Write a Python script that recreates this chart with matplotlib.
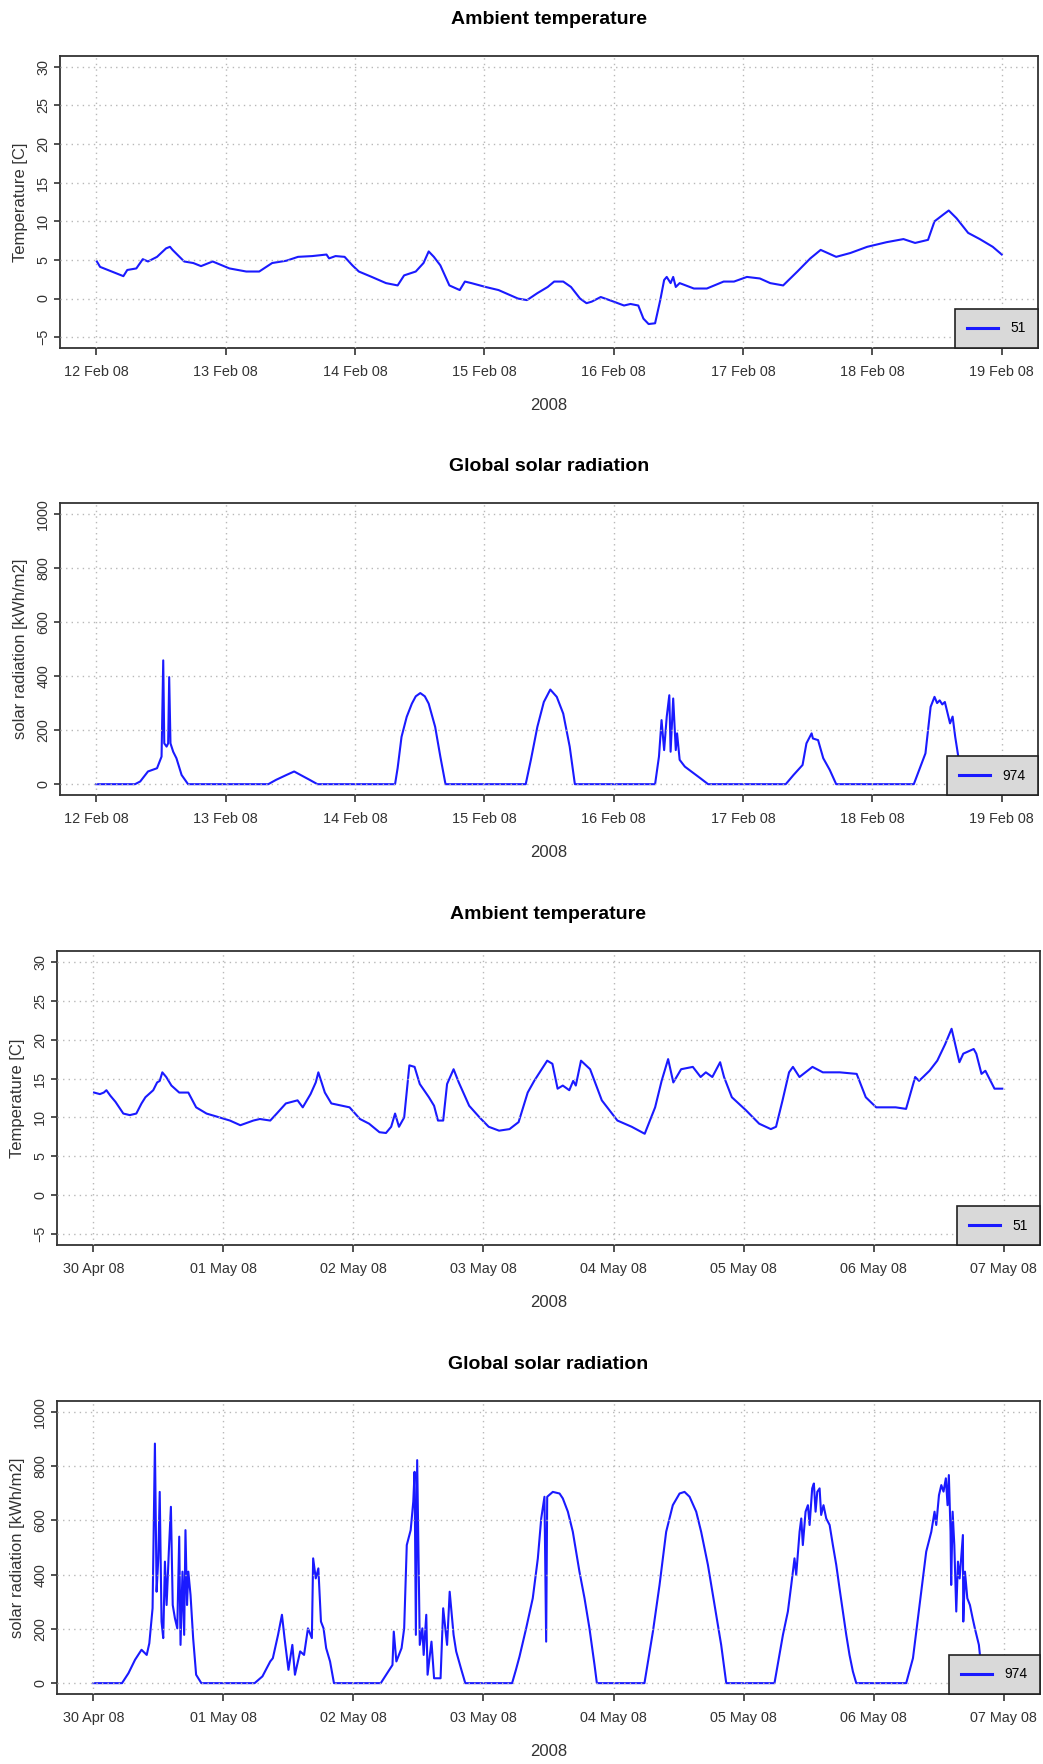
import matplotlib
matplotlib.use("Agg")
import matplotlib.pyplot as plt
import matplotlib.dates as mdates
import numpy as np
from datetime import datetime

plt.rcParams['font.family'] = ['Liberation Sans', 'DejaVu Sans']

# ---- data (time in days from the start of each week) ----
feb_temp_days = [0.005, 0.03, 0.21, 0.24, 0.31, 0.36, 0.40, 0.47, 0.54, 0.57, 0.59, 0.68, 0.75, 0.81,
                 0.90, 1.03, 1.16, 1.26, 1.36, 1.47, 1.56, 1.67, 1.78, 1.80, 1.85, 1.92, 1.98, 2.03,
                 2.13, 2.24, 2.33, 2.38, 2.47, 2.53, 2.57, 2.61, 2.66, 2.73, 2.81, 2.85, 2.90, 3.01,
                 3.11, 3.26, 3.33, 3.41, 3.49, 3.54, 3.61, 3.67, 3.74, 3.79, 3.83, 3.90, 4.00, 4.08,
                 4.13, 4.19, 4.23, 4.27, 4.32, 4.36, 4.39, 4.41, 4.44, 4.46, 4.48, 4.51, 4.62, 4.72,
                 4.85, 4.93, 5.03, 5.13, 5.21, 5.31, 5.42, 5.52, 5.60, 5.72, 5.83, 5.96, 6.11, 6.24,
                 6.33, 6.43, 6.48, 6.55, 6.59, 6.65, 6.74, 6.83, 6.93, 7.00]
feb_temp = [4.8, 4.1, 2.9, 3.7, 3.9, 5.1, 4.8, 5.4, 6.5, 6.7, 6.3, 4.8, 4.6, 4.2,
            4.8, 3.9, 3.5, 3.5, 4.6, 4.9, 5.4, 5.5, 5.7, 5.2, 5.5, 5.4, 4.3, 3.5,
            2.8, 2.0, 1.7, 3.0, 3.5, 4.6, 6.1, 5.4, 4.3, 1.7, 1.1, 2.2, 2.0, 1.5,
            1.1, 0.0, -0.2, 0.7, 1.5, 2.2, 2.2, 1.5, 0.0, -0.6, -0.4, 0.2, -0.4, -0.9,
            -0.7, -0.9, -2.6, -3.3, -3.2, -0.2, 2.4, 2.8, 2.0, 2.8, 1.5, 2.0, 1.3, 1.3,
            2.2, 2.2, 2.8, 2.6, 2.0, 1.7, 3.5, 5.2, 6.3, 5.4, 5.9, 6.7, 7.3, 7.7,
            7.2, 7.6, 10.0, 10.9, 11.4, 10.4, 8.5, 7.7, 6.7, 5.7]

feb_rad_days = [0.0, 0.30, 0.34, 0.40, 0.47, 0.505, 0.518, 0.526, 0.544, 0.556, 0.564, 0.574, 0.595,
                0.62, 0.66, 0.71,
                1.33, 1.39, 1.47, 1.53, 1.58, 1.65, 1.71,
                2.31, 2.33, 2.36, 2.40, 2.44, 2.47, 2.505, 2.54, 2.57, 2.62, 2.66, 2.70,
                3.32, 3.36, 3.41, 3.46, 3.51, 3.56, 3.61, 3.66, 3.70,
                4.32, 4.35, 4.37, 4.39, 4.41, 4.43, 4.44, 4.46, 4.48, 4.49, 4.51, 4.55, 4.60,
                4.67, 4.73,
                5.33, 5.39, 5.46, 5.49, 5.53, 5.54, 5.58, 5.62, 5.67, 5.72,
                6.32, 6.41, 6.45, 6.48, 6.50, 6.52, 6.54, 6.56, 6.60, 6.62, 6.64, 6.68, 6.73, 7.00]
feb_rad = [0, 0, 10, 47, 59, 102, 458, 151, 139, 151, 396, 151, 120,
           96, 34, 0,
           0, 16, 34, 47, 34, 16, 0,
           0, 60, 175, 249, 298, 325, 337, 325, 298, 212, 102, 0,
           0, 90, 212, 304, 350, 323, 261, 139, 0,
           0, 102, 237, 126, 249, 329, 120, 317, 126, 188, 90, 65, 47,
           22, 0,
           0, 34, 71, 151, 188, 169, 163, 96, 53, 0,
           0, 114, 286, 323, 300, 310, 295, 304, 225, 250, 175, 53, 0, 0]

may_temp_days = [0.005, 0.05, 0.08, 0.10, 0.13, 0.17, 0.23, 0.28, 0.33, 0.37, 0.40, 0.46, 0.49, 0.51,
                 0.53, 0.56, 0.60, 0.66, 0.73, 0.79, 0.87, 0.97, 1.05, 1.13, 1.23, 1.28, 1.36, 1.41,
                 1.48, 1.57, 1.61, 1.67, 1.71, 1.73, 1.78, 1.83, 1.97, 2.05, 2.12, 2.20, 2.25, 2.29,
                 2.32, 2.35, 2.39, 2.43, 2.47, 2.51, 2.58, 2.62, 2.65, 2.69, 2.72, 2.77, 2.81, 2.89,
                 2.97, 3.04, 3.12, 3.20, 3.27, 3.34, 3.39, 3.49, 3.53, 3.57, 3.61, 3.66, 3.69, 3.71,
                 3.75, 3.82, 3.91, 4.03, 4.14, 4.24, 4.32, 4.37, 4.42, 4.46, 4.52, 4.61, 4.67, 4.71,
                 4.76, 4.82, 4.85, 4.91, 5.02, 5.12, 5.21, 5.25, 5.30, 5.35, 5.38, 5.43, 5.53, 5.61,
                 5.74, 5.87, 5.94, 6.02, 6.17, 6.25, 6.32, 6.35, 6.43, 6.49, 6.55, 6.60, 6.66, 6.69,
                 6.77, 6.79, 6.83, 6.86, 6.93, 6.99]
may_temp = [13.2, 13.0, 13.2, 13.5, 12.8, 12.0, 10.5, 10.3, 10.5, 11.8, 12.6, 13.5, 14.5, 14.7,
            15.8, 15.2, 14.1, 13.2, 13.2, 11.3, 10.5, 10.0, 9.6, 9.0, 9.6, 9.8, 9.6, 10.5,
            11.8, 12.2, 11.3, 13.0, 14.5, 15.8, 13.2, 11.8, 11.3, 9.8, 9.2, 8.1, 8.0, 8.8,
            10.5, 8.8, 10.0, 16.7, 16.5, 14.3, 12.6, 11.5, 9.6, 9.6, 14.3, 16.2, 14.5, 11.5,
            10.0, 8.8, 8.3, 8.5, 9.4, 13.2, 14.7, 17.3, 16.9, 13.7, 14.1, 13.5, 14.7, 14.1,
            17.3, 16.2, 12.2, 9.6, 8.8, 7.9, 11.3, 14.7, 17.5, 14.5, 16.2, 16.5, 15.2, 15.8,
            15.2, 17.1, 15.2, 12.6, 10.9, 9.2, 8.5, 8.8, 12.2, 15.8, 16.5, 15.2, 16.5, 15.8,
            15.8, 15.6, 12.6, 11.3, 11.3, 11.1, 15.2, 14.7, 16.0, 17.3, 19.4, 21.4, 17.1, 18.2,
            18.8, 18.2, 15.6, 16.0, 13.7, 13.7]

may_rad_days = [0.0, 0.22, 0.27, 0.32, 0.37, 0.41, 0.43, 0.455, 0.473, 0.486, 0.499, 0.51, 0.524,
                0.537, 0.55, 0.563, 0.58, 0.596, 0.61, 0.627, 0.645, 0.66, 0.67, 0.685, 0.698,
                0.708, 0.72, 0.73, 0.747, 0.767, 0.79, 0.83,
                1.24, 1.30, 1.36, 1.38, 1.42, 1.45, 1.47, 1.50, 1.53, 1.55, 1.59, 1.62, 1.65,
                1.68, 1.69, 1.71, 1.73, 1.75, 1.77, 1.79, 1.82, 1.85,
                2.21, 2.26, 2.30, 2.31, 2.33, 2.37, 2.39, 2.41, 2.44, 2.46, 2.47, 2.48, 2.49,
                2.51, 2.53, 2.54, 2.56, 2.57, 2.60, 2.62, 2.67, 2.69, 2.72, 2.74, 2.77, 2.79,
                2.83, 2.86,
                3.22, 3.25, 3.277, 3.328, 3.379, 3.418, 3.444, 3.469, 3.482, 3.49, 3.533, 3.585,
                3.61, 3.649, 3.687, 3.738, 3.777, 3.815, 3.854, 3.872,
                4.238, 4.303, 4.354, 4.405, 4.456, 4.508, 4.546, 4.585, 4.636, 4.674, 4.726,
                4.777, 4.828, 4.867,
                5.238, 5.303, 5.341, 5.367, 5.392, 5.405, 5.431, 5.444, 5.456, 5.477, 5.495,
                5.508, 5.528, 5.541, 5.554, 5.567, 5.585, 5.597, 5.615, 5.636, 5.662, 5.687,
                5.713, 5.738, 5.764, 5.79, 5.815, 5.841, 5.867,
                6.251, 6.303, 6.354, 6.405, 6.444, 6.469, 6.482, 6.503, 6.521, 6.538, 6.556,
                6.569, 6.579, 6.592, 6.597, 6.608, 6.621, 6.636, 6.649, 6.662, 6.687, 6.69,
                6.703, 6.721, 6.741, 6.762, 6.779, 6.797, 6.81, 6.841, 7.0]
may_rad = [0, 0, 37, 86, 123, 104, 147, 276, 883, 337, 460, 705, 227,
           166, 448, 288, 485, 650, 288, 239, 202, 540, 141, 411, 178,
           564, 288, 411, 325, 166, 31, 0,
           0, 25, 80, 92, 178, 252, 166, 49, 141, 31, 117, 104, 202,
           166, 460, 386, 423, 227, 202, 129, 80, 0,
           0, 37, 67, 190, 80, 129, 202, 509, 564, 669, 779, 178, 822,
           141, 202, 104, 252, 31, 153, 18, 18, 276, 141, 337, 178, 117,
           49, 0,
           0, 50, 98, 202, 313, 460, 607, 687, 153, 687, 705, 699,
           681, 632, 558, 411, 313, 202, 67, 0,
           0, 190, 362, 558, 656, 699, 705, 687, 632, 558, 436,
           288, 141, 0,
           0, 178, 264, 362, 460, 399, 558, 607, 509, 632, 656,
           583, 718, 736, 632, 705, 718, 620, 656, 607, 583, 509,
           436, 350, 264, 178, 104, 43, 0,
           0, 92, 288, 485, 558, 632, 583, 693, 730, 706, 755,
           656, 767, 558, 362, 632, 509, 264, 448, 386, 546, 227,
           411, 313, 288, 239, 202, 166, 141, 0, 0]

panels = [
    ("Ambient temperature", datetime(2008, 2, 12), feb_temp_days, feb_temp, "Temperature [C]", "temp", "51"),
    ("Global solar radiation", datetime(2008, 2, 12), feb_rad_days, feb_rad, "solar radiation [kWh/m2]", "rad", "974"),
    ("Ambient temperature", datetime(2008, 4, 30), may_temp_days, may_temp, "Temperature [C]", "temp", "51"),
    ("Global solar radiation", datetime(2008, 4, 30), may_rad_days, may_rad, "solar radiation [kWh/m2]", "rad", "974"),
]

# axes boxes in pixels: left, top, right, bottom
boxes = [(60, 56, 1038, 348), (60, 503, 1038, 795), (57, 951, 1040, 1245), (57, 1401, 1040, 1694)]

W, H = 1043, 1764
fig = plt.figure(figsize=(W / 100, H / 100), dpi=100)
fig.patch.set_facecolor("white")

for (title, start, days, vals, ylabel, kind, leg), (l, t, r, b) in zip(panels, boxes):
    assert len(days) == len(vals), title
    ax = fig.add_axes([l / W, 1 - b / H, (r - l) / W, (b - t) / H])
    t0 = mdates.date2num(start)
    x = t0 + np.array(days)
    ax.plot(x, vals, color="#1a1aff", lw=1.5, label=leg)

    ax.set_xlim(t0 - 0.28, t0 + 7.28)
    ax.xaxis.set_major_locator(mdates.DayLocator())
    ax.xaxis.set_major_formatter(mdates.DateFormatter("%d %b %y"))
    if kind == "temp":
        ax.set_ylim(-6.4, 31.4)
        ax.set_yticks(np.arange(-5, 31, 5))
    else:
        ax.set_ylim(-40, 1040)
        ax.set_yticks(np.arange(0, 1001, 200))

    ax.set_axisbelow(False)
    ax.grid(True, color="#b8b8b8", linestyle=(0, (1, 3)), lw=1.0)
    for s in ax.spines.values():
        s.set_linewidth(1.3)
        s.set_color("#333333")
    ax.tick_params(axis="x", direction="out", length=5, width=1.2, color="#333333",
                   labelsize=10.4, labelcolor="#333333", pad=7)
    ax.tick_params(axis="y", direction="out", length=4, width=1.2, color="#333333",
                   labelsize=10.4, labelcolor="#333333", pad=3)
    plt.setp(ax.get_yticklabels(), rotation=90, va="center")

    ax.set_title(title, fontsize=14, fontweight="bold", pad=23)
    ax.set_xlabel("2008", fontsize=12, color="#333333", labelpad=14)
    ax.set_ylabel(ylabel, fontsize=12, color="#333333", labelpad=6)

    lg = ax.legend(loc="lower right", borderaxespad=0, fancybox=False, framealpha=1,
                   facecolor="#d9d9d9", edgecolor="#222222", fontsize=10,
                   handlelength=2.2, handletextpad=0.9, borderpad=0.9)
    lg.get_frame().set_linewidth(1.2)
    for h in lg.get_lines():
        h.set_linewidth(2.2)

fig.savefig("out.png", dpi=100)
